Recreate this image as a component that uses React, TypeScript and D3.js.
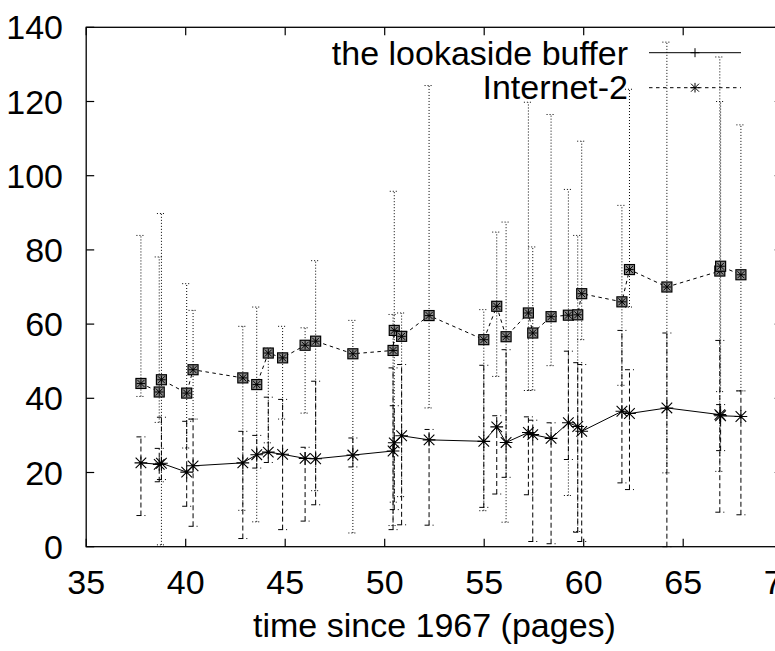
import React from "react";
import * as d3 from "d3";

const xs = [37.75, 38.67, 38.78, 40.05, 40.37, 42.87, 43.57, 44.15, 44.87, 46.0, 46.53, 48.4, 50.42, 50.48, 50.85, 52.23, 54.98, 55.63, 56.1, 57.22, 57.44, 58.36, 59.23, 59.7, 59.9, 61.92, 62.3, 64.18, 66.84, 66.88, 67.9];

const bufferMean = [22.6, 22.2, 22.5, 20.1, 21.8, 22.6, 24.8, 25.5, 24.9, 23.8, 23.7, 24.7, 25.8, 28.0, 29.9, 28.8, 28.4, 32.3, 28.1, 30.8, 30.2, 29.2, 33.4, 32.4, 31.1, 36.5, 35.9, 37.4, 35.6, 35.3, 35.1];
const bufferLow = [8.4, 17.5, 18.1, 10.9, 5.5, 2.2, 21.2, 22.7, 4.6, 6.9, 11.3, 21.5, 4.6, 10, 5.9, 5.8, 10.6, 14.2, 18.7, 14.0, 1.4, 0.8, 23.5, 3.9, 1.4, 17.2, 15.4, 0, 9.3, 25.9, 8.6];
const bufferHigh = [29.6, 26.5, 34.9, 33.8, 34.4, 31.1, 30.0, 40.3, 39.7, 26.8, 44.6, 29.3, 48.2, 38, 49.1, 31.6, 48.9, 35.3, 53.1, 35.0, 34.1, 33.4, 52.7, 49.6, 49.1, 58.3, 47.7, 57.6, 55.6, 38.3, 42.0];

const internetMean = [44.0, 41.7, 45.0, 41.4, 47.7, 45.5, 43.7, 52.2, 50.9, 54.3, 55.4, 52.0, 52.9, 58.3, 56.7, 62.3, 55.8, 64.8, 56.6, 63.0, 57.6, 62.0, 62.4, 62.5, 68.2, 66.0, 74.7, 70.0, 74.3, 75.6, 73.3];
const internetLow = [40.5, 33.5, 0.5, 26.6, 34.4, 9.8, 6.7, 28.0, 34.4, 36.0, 15.1, 3.7, 5.7, 12, 13.5, 37.4, 9.7, 45.9, 6.6, 42.1, 42.2, 48.8, 13.8, 4.1, 55.8, 43.5, 64.6, 19.9, 20.3, 41.8, 42.0];
const internetHigh = [83.9, 78.1, 89.8, 70.9, 63.7, 59.4, 64.6, 53.5, 59.4, 59.0, 77.1, 61.0, 62.6, 95.8, 63.0, 124.3, 63.9, 84.8, 87.5, 119.8, 80.8, 116.5, 96.3, 83.9, 109.3, 92.0, 123.3, 136.0, 132.0, 120, 113.7];

const xTicks = [35, 40, 45, 50, 55, 60, 65, 70];
const yTicks = [0, 20, 40, 60, 80, 100, 120, 140];
const seriesNames = ["the lookaside buffer", "Internet-2"];
const xTitle = "time since 1967 (pages)";

const FONT = "'Liberation Sans', Arial, Helvetica, sans-serif";

function starPath(cx: number, cy: number, s: number) {
  return `M${cx - s},${cy - s}L${cx + s},${cy + s}M${cx - s},${cy + s}L${cx + s},${cy - s}M${cx},${cy - s * 1.2}L${cx},${cy + s * 1.2}M${cx - s * 1.2},${cy}L${cx + s * 1.2},${cy}`;
}

export default function App() {
  const x = d3.scaleLinear().domain([35, 70]).range([86.2, 782.7]);
  const y = d3.scaleLinear().domain([0, 140]).range([546.7, 27.3]);
  const [x0, x1] = x.range();
  const [yb, yt] = y.range();

  const line = d3
    .line<number>()
    .x((_, i) => x(xs[i]))
    .y((d) => y(d));

  const cap = 4.5;

  const errBars = (low: number[], high: number[], dash: string, key: string) =>
    xs.map((xv, i) => {
      const px = x(xv);
      const pl = y(low[i]);
      const ph = y(high[i]);
      return (
        <g key={key + i} stroke="#000" strokeWidth={1} strokeDasharray={dash} fill="none">
          <line x1={px} x2={px} y1={pl} y2={ph} />
          <line x1={px - cap} x2={px + cap} y1={pl} y2={pl} />
          <line x1={px - cap} x2={px + cap} y1={ph} y2={ph} />
        </g>
      );
    });

  return (
    <svg
      width={775}
      height={651}
      style={{ position: "absolute", left: 0, top: 0, background: "#fff" }}
      fontFamily={FONT}
    >
      <rect x={0} y={0} width={775} height={651} fill="#fff" />
      <rect x={x0} y={yt} width={x1 - x0} height={yb - yt} fill="none" stroke="#000" strokeWidth={1.3} />
      {xTicks.map((t) => (
        <g key={"xt" + t}>
          <line x1={x(t)} x2={x(t)} y1={yb} y2={yb - 8} stroke="#000" strokeWidth={1.2} />
          <line x1={x(t)} x2={x(t)} y1={yt} y2={yt + 8} stroke="#000" strokeWidth={1.2} />
          <text x={x(t)} y={594} fontSize={34} textAnchor="middle" fill="#000">
            {t}
          </text>
        </g>
      ))}
      {yTicks.map((t) => (
        <g key={"yt" + t}>
          <line x1={x0} x2={x0 + 8} y1={y(t)} y2={y(t)} stroke="#000" strokeWidth={1.2} />
          <line x1={x1} x2={x1 - 8} y1={y(t)} y2={y(t)} stroke="#000" strokeWidth={1.2} />
          <text x={63} y={y(t) + 12} fontSize={34} textAnchor="end" fill="#000">
            {t}
          </text>
        </g>
      ))}
      <text x={(x0 + x1) / 2} y={637} fontSize={34} textAnchor="middle" fill="#000">
        {xTitle}
      </text>

      {errBars(internetLow, internetHigh, "1,2", "ie")}
      {errBars(bufferLow, bufferHigh, "5,3", "be")}

      <path d={line(bufferMean) || ""} fill="none" stroke="#000" strokeWidth={1} />
      <path d={line(internetMean) || ""} fill="none" stroke="#000" strokeWidth={1} strokeDasharray="3.5,3.5" />

      {xs.map((xv, i) => (
        <path key={"bm" + i} d={starPath(x(xv), y(bufferMean[i]), 5.3)} stroke="#000" strokeWidth={1.1} fill="none" />
      ))}
      {xs.map((xv, i) => (
        <g key={"im" + i}>
          <rect x={x(xv) - 5} y={y(internetMean[i]) - 5} width={10} height={10} fill="#8a8a8a" stroke="#000" strokeWidth={1.2} />
          <path d={starPath(x(xv), y(internetMean[i]), 3.5)} stroke="#000" strokeWidth={1} fill="none" />
        </g>
      ))}

      <text x={628} y={65} fontSize={34} textAnchor="end" fill="#000">
        {seriesNames[0]}
      </text>
      <line x1={649} x2={741} y1={52.7} y2={52.7} stroke="#000" strokeWidth={1} />
      <path d={`M690.5,52.7L699.5,52.7M695,48.2L695,57.2`} stroke="#000" strokeWidth={1} />
      <text x={628} y={99} fontSize={34} textAnchor="end" fill="#000">
        {seriesNames[1]}
      </text>
      <line x1={649} x2={741} y1={87.7} y2={87.7} stroke="#000" strokeWidth={1} strokeDasharray="3.5,3.5" />
      <path d={starPath(695, 87.7, 4)} stroke="#000" strokeWidth={1} fill="none" />
    </svg>
  );
}
